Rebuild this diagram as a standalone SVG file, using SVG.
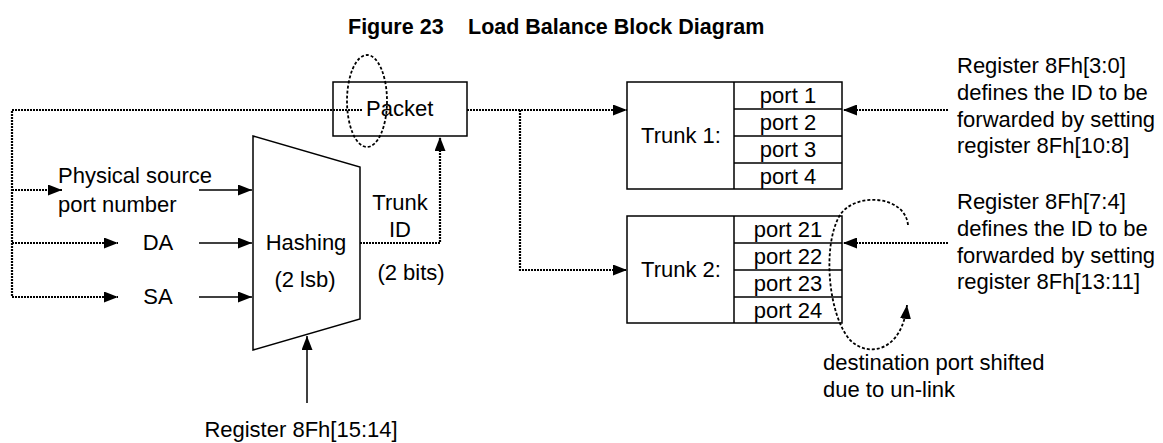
<svg xmlns="http://www.w3.org/2000/svg" width="1163" height="443" viewBox="0 0 1163 443">
<style>
text{font-family:"Liberation Sans",Arial,sans-serif;font-size:22px;fill:#000}
.title{font-weight:bold;font-size:21.5px}
.box{fill:#fff;stroke:#000;stroke-width:1.5}
.solid{fill:none;stroke:#000;stroke-width:1.5}
.dot{fill:none;stroke:#000;stroke-width:2.2;stroke-dasharray:2 1}
.dash{fill:none;stroke:#000;stroke-width:1.8;stroke-dasharray:3 2}
.c{text-anchor:middle}
</style>
<defs>
<marker id="ah" markerUnits="userSpaceOnUse" markerWidth="15" markerHeight="11" refX="14" refY="5.5" orient="auto">
<path d="M0,0 L14,5.5 L0,11 Z" fill="#000"/>
</marker>
</defs>
<rect width="1163" height="443" fill="#fff"/>
<g id="title">
<text class="title" x="348" y="34">Figure 23</text>
<text class="title" x="468" y="34">Load Balance Block Diagram</text>
</g>
<g id="packet">
<rect class="box" x="333" y="82" width="134" height="54"/>
<text x="366" y="116">Packet</text>
</g>
<g id="hashing">
<path class="box" d="M253,136 L360,167 L360,319 L253,350 Z"/>
<text class="c" x="306" y="250">Hashing</text>
<text class="c" x="305" y="287">(2 lsb)</text>
</g>
<g id="trunk1">
<rect class="box" x="627" y="82" width="215" height="107"/>
<path class="solid" d="M734,82 V189 M734,109 H842 M734,136 H842 M734,163 H842"/>
<text class="c" x="681" y="143">Trunk 1:</text>
<text class="c" x="788" y="103">port 1</text>
<text class="c" x="788" y="130">port 2</text>
<text class="c" x="788" y="157">port 3</text>
<text class="c" x="788" y="184">port 4</text>
</g>
<g id="trunk2">
<rect class="box" x="627" y="216" width="215" height="107"/>
<path class="solid" d="M734,216 V323 M734,243 H842 M734,270 H842 M734,297 H842"/>
<text class="c" x="681" y="277">Trunk 2:</text>
<text class="c" x="788" y="237">port 21</text>
<text class="c" x="788" y="264">port 22</text>
<text class="c" x="788" y="291">port 23</text>
<text class="c" x="788" y="318">port 24</text>
</g>
<g id="labels">
<text x="58" y="183">Physical source</text>
<text x="58" y="212">port number</text>
<text class="c" x="158" y="250">DA</text>
<text class="c" x="158" y="304">SA</text>
<text class="c" x="400" y="210">Trunk</text>
<text class="c" x="400" y="237">ID</text>
<text class="c" x="411" y="280">(2 bits)</text>
<text class="c" x="301" y="437">Register 8Fh[15:14]</text>
<text x="957" y="73">Register 8Fh[3:0]</text>
<text x="957" y="100">defines the ID to be</text>
<text x="957" y="127">forwarded by setting</text>
<text x="957" y="153">register 8Fh[10:8]</text>
<text x="957" y="209">Register 8Fh[7:4]</text>
<text x="957" y="236">defines the ID to be</text>
<text x="957" y="263">forwarded by setting</text>
<text x="957" y="289">register 8Fh[13:11]</text>
<text x="823" y="370">destination port shifted</text>
<text x="823" y="397">due to un-link</text>
</g>
<g id="connectors">
<path class="dot" d="M362,110 H12 V297"/>
<path class="dot" d="M12,190 H62" marker-end="url(#ah)"/>
<path class="dot" d="M12,243 H118" marker-end="url(#ah)"/>
<path class="dot" d="M12,297 H118" marker-end="url(#ah)"/>
<path class="solid" d="M199,190 H252" marker-end="url(#ah)"/>
<path class="solid" d="M199,243 H252" marker-end="url(#ah)"/>
<path class="solid" d="M199,297 H252" marker-end="url(#ah)"/>
<path class="solid" d="M307,403 V336" marker-end="url(#ah)"/>
<path class="dot" d="M360,243 H440 V137" marker-end="url(#ah)"/>
<path class="dot" d="M467,110 H627" marker-end="url(#ah)"/>
<path class="dot" d="M520,110 V270 H627" marker-end="url(#ah)"/>
<path class="dot" d="M948,110 H843" marker-end="url(#ah)"/>
<path class="dot" d="M948,243 H843" marker-end="url(#ah)"/>
<ellipse class="dash" cx="367" cy="101" rx="20" ry="46"/>
<path class="dash" d="M908,225 C905,195 855,192 840,215 C822,245 828,315 850,340 C868,358 902,352 907,305" marker-end="url(#ah)"/>
</g>
</svg>
